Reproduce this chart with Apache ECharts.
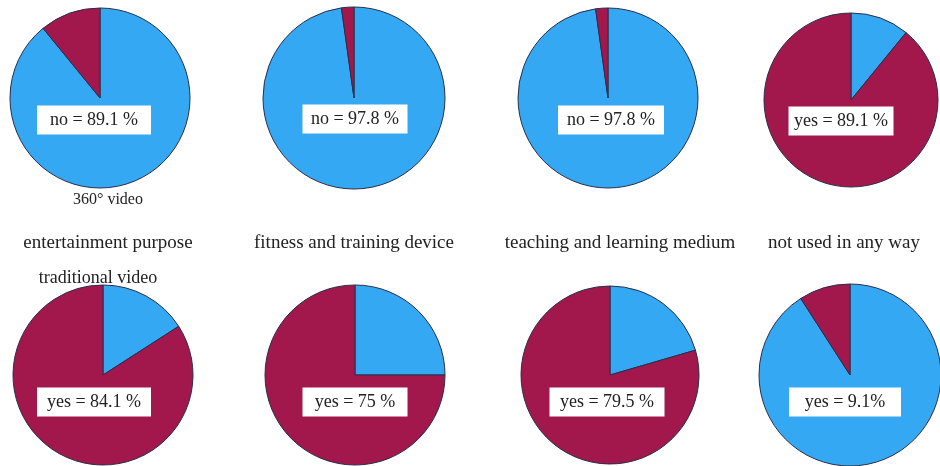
<!DOCTYPE html>
<html>
<head>
<meta charset="utf-8">
<script src="https://cdn.jsdelivr.net/npm/echarts@6/dist/echarts.min.js"></script>
<style>
html,body{margin:0;padding:0;background:#fff;}
#chart{width:940px;height:466px;}
</style>
</head>
<body>
<div id="chart"></div>
<script>
// Data
var categories = ['entertainment purpose', 'fitness and training device', 'teaching and learning medium', 'not used in any way'];
var rowLabels = ['360° video', 'traditional video'];
var sliceNames = ['no', 'yes'];
// row 1: 360° video, row 2: traditional video ; values [no, yes]
var noValues360 = [89.1, 97.8, 97.8, 10.9];
var yesValues360 = [10.9, 2.2, 2.2, 89.1];
var noValuesTrad = [15.9, 25, 20.5, 90.9];
var yesValuesTrad = [84.1, 75, 79.5, 9.1];
// which slice is annotated, and its text
var shownSlice360 = ['no', 'no', 'no', 'yes'];
var shownSliceTrad = ['yes', 'yes', 'yes', 'yes'];
var labelText360 = ['no = 89.1 %', 'no = 97.8 %', 'no = 97.8 %', 'yes = 89.1 %'];
var labelTextTrad = ['yes = 84.1 %', 'yes = 75 %', 'yes = 79.5 %', 'yes = 9.1%'];

// Layout (positions/sizes/styles)
var centers = [
  [[100, 98], [354, 98], [608, 98], [851, 100]],
  [[103, 375], [355, 375], [610, 375], [850, 375]]
];
var radii = [[90, 91, 90, 87], [90, 90, 89, 91]];
var boxOffsets = [
  [[-6, 22], [1, 21], [3, 22], [-10, 21]],
  [[-9, 27], [0, 27], [-3, 27], [-5, 27]]
];
var boxWidths = [[114, 105, 106, 105], [114, 105, 115, 112]];
var colors = { no: '#35A8F3', yes: '#A3184C' };
var serif = '"Liberation Serif", "Times New Roman", serif';

var series = [];
var rows = [
  { no: noValues360, yes: yesValues360, shown: shownSlice360, text: labelText360 },
  { no: noValuesTrad, yes: yesValuesTrad, shown: shownSliceTrad, text: labelTextTrad }
];
rows.forEach(function (row, r) {
  for (var i = 0; i < categories.length; i++) {
    var data = sliceNames.map(function (nm) {
      var shown = row.shown[i] === nm;
      return {
        name: nm,
        value: row[nm][i],
        itemStyle: { color: colors[nm] },
        label: {
          show: shown,
          position: 'center',
          formatter: row.text[i],
          offset: boxOffsets[r][i],
          width: boxWidths[r][i],
          align: 'center',
          backgroundColor: '#ffffff',
          padding: [5, 0, 4, 0],
          fontFamily: serif,
          fontSize: 18,
          lineHeight: 20,
          color: '#222222'
        }
      };
    });
    series.push({
      type: 'pie',
      center: centers[r][i],
      radius: [0, radii[r][i]],
      startAngle: 90,
      clockwise: true,
      silent: true,
      animation: false,
      avoidLabelOverlap: false,
      labelLine: { show: false },
      emphasis: { disabled: true },
      itemStyle: { borderColor: '#2a2e4a', borderWidth: 1 },
      data: data
    });
  }
});

var catX = [108, 354, 620, 844];
var graphics = categories.map(function (c, i) {
  return {
    type: 'text',
    style: {
      text: c, x: catX[i], y: 243, textAlign: 'center', textVerticalAlign: 'middle',
      font: '19px ' + serif, fill: '#222222'
    }
  };
});
graphics.push({
  type: 'text',
  style: { text: rowLabels[0], x: 108, y: 200, textAlign: 'center', textVerticalAlign: 'middle',
    font: '16px ' + serif, fill: '#222222' }
});
graphics.push({
  type: 'text',
  style: { text: rowLabels[1], x: 98, y: 278, textAlign: 'center', textVerticalAlign: 'middle',
    font: '18px ' + serif, fill: '#222222' }
});

var chart = echarts.init(document.getElementById('chart'), null, { renderer: 'canvas' });
chart.setOption({
  backgroundColor: '#ffffff',
  animation: false,
  series: series,
  graphic: graphics
});
</script>
</body>
</html>
